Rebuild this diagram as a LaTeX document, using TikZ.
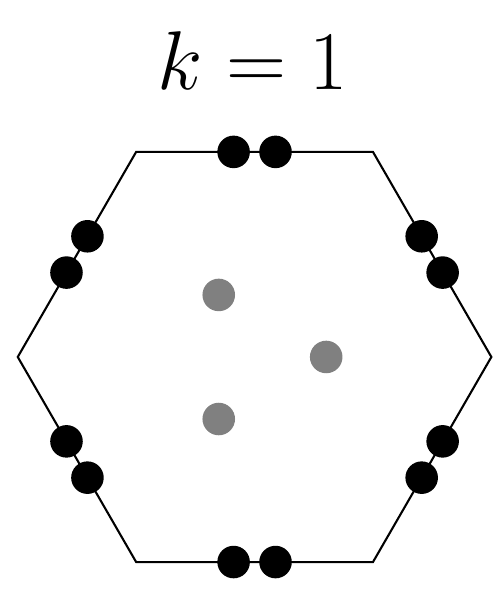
\documentclass[tikz,border=0pt]{standalone}
\tikzset{
  bead/.style={circle, fill=black, inner sep=0pt, minimum size=0.55cm},
  ghost/.style={circle, fill=gray, inner sep=0pt, minimum size=0.55cm}
}
\begin{document}
\begin{tikzpicture}[line width=1pt]
        \useasboundingbox (-4.30,-3.97) rectangle (4.10,6.03);
        % Title
        \node[anchor=base, scale=1.61] (title) at (-0.03,4.51) {\Huge $k=1$};

        % Hexagon
        \foreach \i in {0,...,5}
            \coordinate (v\i) at (60*\i:4);
        \draw (v0) -- (v1) -- (v2) -- (v3) -- (v4) -- (v5) -- cycle;

        % Pairs of beads on each edge
        \foreach \i in {0,...,5} {
            \pgfmathsetmacro{\a}{30+60*\i}
            \node[bead] (b\i a) at ([shift={(\a+90:0.354)}]\a:3.464) {};
            \node[bead] (b\i b) at ([shift={(\a-90:0.354)}]\a:3.464) {};
        }

        % Inner points
        \node[ghost] (g0) at (0:1.21) {};
        \node[ghost] (g1) at (120:1.21) {};
        \node[ghost] (g2) at (240:1.21) {};
    \end{tikzpicture}
\end{document}
